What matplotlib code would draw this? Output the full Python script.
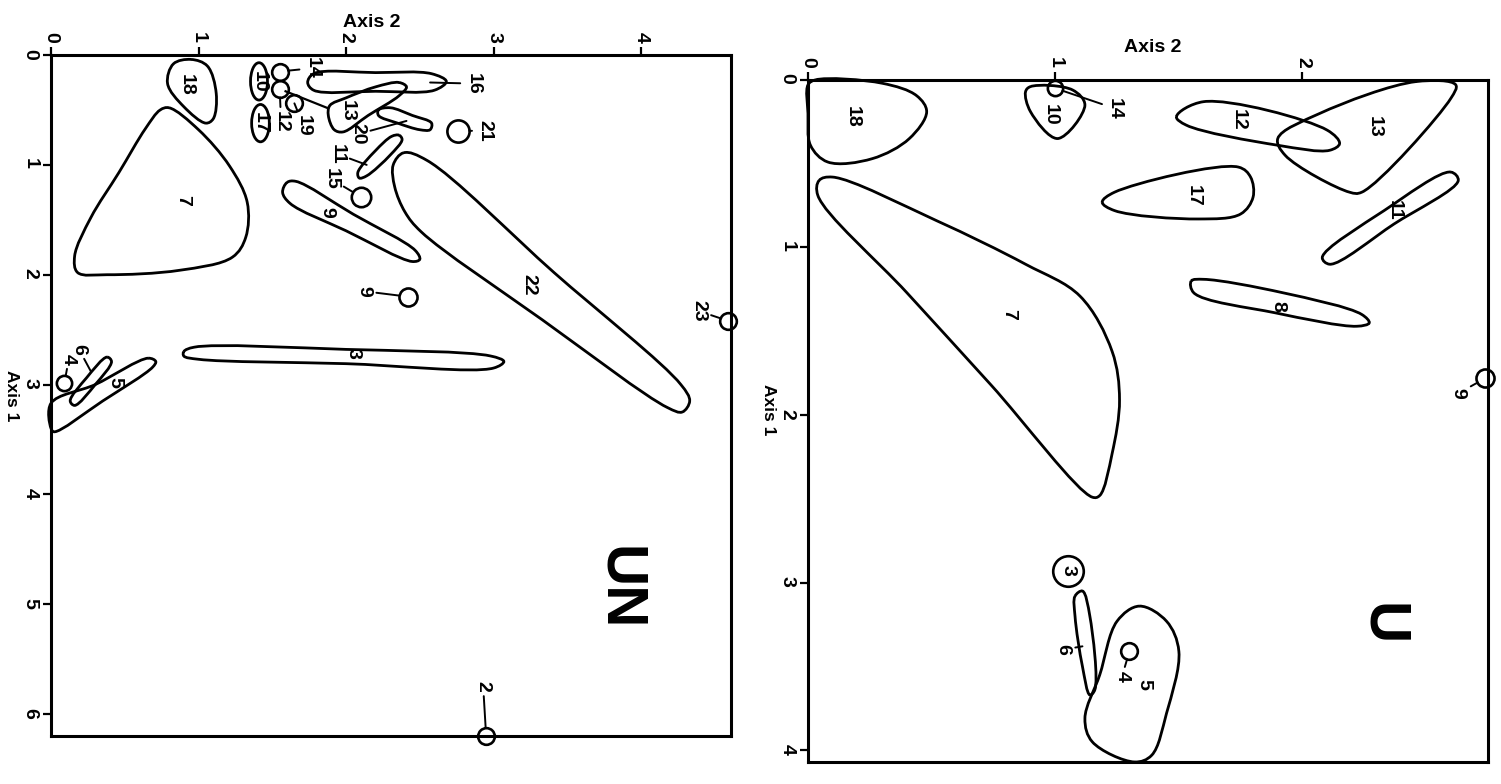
import numpy as np
import matplotlib.pyplot as plt
from matplotlib.path import Path
from matplotlib.patches import PathPatch, Ellipse

plt.rcParams['font.family'] = ['Liberation Sans', 'DejaVu Sans']
plt.rcParams['font.weight'] = 'bold'

# ---------------- panel UN (x = Axis 2, y = Axis 1) ----------------
un_groups = {
    '18': [(0.95, 0.04), (1.06, 0.10), (1.12, 0.35), (1.10, 0.58), (1.05, 0.62),
           (0.90, 0.47), (0.79, 0.26), (0.83, 0.08)],
    '7': [(0.80, 0.48), (1.00, 0.68), (1.21, 1.01), (1.33, 1.34), (1.32, 1.66),
          (1.23, 1.84), (0.87, 1.96), (0.38, 2.00), (0.18, 1.98), (0.16, 1.83),
          (0.27, 1.48), (0.46, 1.07), (0.64, 0.67), (0.74, 0.50)],
    '16': [(1.78, 0.17), (2.20, 0.16), (2.58, 0.17), (2.68, 0.24), (2.60, 0.32),
           (2.20, 0.33), (1.78, 0.32), (1.74, 0.25)],
    '13': [(2.36, 0.25), (2.41, 0.29), (2.36, 0.37), (2.15, 0.55), (1.98, 0.70),
           (1.92, 0.68), (1.88, 0.55), (1.89, 0.46), (2.00, 0.39), (2.20, 0.29)],
    '20': [(2.22, 0.50), (2.30, 0.48), (2.45, 0.55), (2.58, 0.62), (2.57, 0.68),
           (2.50, 0.68), (2.35, 0.62), (2.22, 0.55)],
    '11': [(2.36, 0.73), (2.38, 0.77), (2.30, 0.91), (2.14, 1.10), (2.09, 1.12),
           (2.08, 1.07), (2.20, 0.87), (2.31, 0.74)],
    '9b': [(1.60, 1.16), (1.66, 1.15), (2.05, 1.45), (2.47, 1.78), (2.50, 1.86),
           (2.45, 1.88), (2.00, 1.60), (1.62, 1.35), (1.57, 1.25)],
    '22': [(2.39, 0.89), (2.55, 0.96), (3.41, 1.98), (4.27, 3.00), (4.33, 3.15),
           (4.28, 3.25), (4.18, 3.21), (3.33, 2.41), (2.51, 1.61), (2.40, 1.43),
           (2.33, 1.20), (2.32, 1.00)],
    '3': [(0.90, 2.70), (0.97, 2.66), (2.00, 2.68), (2.98, 2.74), (3.07, 2.79),
          (3.00, 2.85), (2.00, 2.81), (1.00, 2.77), (0.90, 2.74)],
    '5': [(0.66, 2.76), (0.71, 2.79), (0.69, 2.84), (0.35, 3.15), (0.02, 3.43),
          (0.00, 3.40), (0.00, 3.17), (0.30, 3.00)],
    '6': [(0.38, 2.75), (0.41, 2.79), (0.30, 3.00), (0.16, 3.19), (0.13, 3.15),
          (0.24, 2.94)],
}
un_group_text = {'18': (0.92, 0.27), '7': (0.89, 1.32), '13': (2.01, 0.51),
                 '9b': (1.87, 1.43), '22': (3.24, 2.09), '3': (2.05, 2.72),
                 '5': (0.43, 2.98)}
# groups whose number sits outside, joined by a short line
un_group_leaders = {'16': ((2.57, 0.25), (2.86, 0.26)),
                    '20': ((2.41, 0.60), (2.08, 0.72)),
                    '11': ((2.14, 1.00), (1.94, 0.90)),
                    '6': ((0.27, 2.88), (0.19, 2.68))}
# narrow upright ovals: centre, width, height
un_ovals = {'10': ((1.41, 0.24), 0.115, 0.34), '17': ((1.42, 0.62), 0.12, 0.34)}
# single variables
un_points = {'14': (1.55, 0.15), '12': (1.55, 0.31), '19': (1.65, 0.44),
             '21': (2.76, 0.69), '15': (2.10, 1.29), '9': (2.42, 2.20),
             '23': (4.59, 2.42), '2': (2.95, 6.20), '4': (0.09, 2.99)}
un_point_text = {'14': (1.77, 0.12), '12': (1.56, 0.61), '19': (1.71, 0.64),
                 '21': (2.94, 0.69), '15': (1.90, 1.13), '9': (2.12, 2.15),
                 '23': (4.39, 2.33), '2': (2.93, 5.75), '4': (0.12, 2.77)}
un_point_size = {'14': 12, '12': 12, '19': 12, '21': 16, '15': 14, '9': 13,
                 '23': 12, '2': 12, '4': 11}
un_links = [((1.59, 0.33), (1.87, 0.48))]

# ---------------- panel U ----------------
u_groups = {
    '18': [(0.03, 0.00), (0.30, 0.02), (0.44, 0.095), (0.48, 0.19), (0.41, 0.35),
           (0.26, 0.47), (0.08, 0.49), (0.01, 0.39), (0.00, 0.20), (0.00, 0.03)],
    '10': [(0.90, 0.04), (1.07, 0.06), (1.12, 0.15), (1.01, 0.35), (0.90, 0.19),
           (0.88, 0.07)],
    '12': [(1.49, 0.22), (1.60, 0.13), (2.10, 0.30), (2.15, 0.38), (2.11, 0.42),
           (1.90, 0.39), (1.53, 0.27)],
    '13': [(2.46, 0.01), (2.62, 0.03), (2.60, 0.11), (2.24, 0.67), (2.19, 0.67),
           (1.93, 0.45), (1.90, 0.35), (2.07, 0.20)],
    '17': [(1.19, 0.73), (1.24, 0.67), (1.74, 0.52), (1.79, 0.58), (1.80, 0.70),
           (1.75, 0.80), (1.58, 0.83), (1.24, 0.78)],
    '11': [(2.60, 0.55), (2.63, 0.60), (2.37, 0.86), (2.11, 1.10), (2.08, 1.06),
           (2.33, 0.78)],
    '8': [(1.55, 1.20), (1.60, 1.19), (1.92, 1.27), (2.24, 1.40), (2.27, 1.45),
          (2.22, 1.47), (1.89, 1.39), (1.56, 1.27)],
    '7': [(0.045, 0.60), (0.10, 0.58), (0.52, 0.84), (0.88, 1.10), (1.10, 1.29),
          (1.23, 1.62), (1.26, 1.91), (1.23, 2.23), (1.18, 2.48), (1.15, 2.49),
          (0.74, 1.82), (0.40, 1.27), (0.04, 0.69)],
    '6': [(1.08, 3.08), (1.11, 3.05), (1.14, 3.20), (1.16, 3.64), (1.14, 3.67),
          (1.11, 3.50), (1.08, 3.20)],
    '5': [(1.34, 3.14), (1.25, 3.23), (1.18, 3.55), (1.12, 3.81), (1.15, 3.95),
          (1.32, 4.07), (1.39, 4.03), (1.45, 3.78), (1.50, 3.41), (1.45, 3.23)],
}
u_group_text = {'18': (0.18, 0.22), '10': (0.98, 0.21), '12': (1.74, 0.24),
                '13': (2.29, 0.28), '17': (1.56, 0.69), '11': (2.37, 0.78),
                '8': (1.90, 1.35), '7': (0.81, 1.40), '5': (1.36, 3.61)}
u_group_leaders = {'6': ((1.11, 3.38), (1.03, 3.40))}
u_points = {'14': (1.00, 0.05), '9': (2.74, 1.78), '4': (1.30, 3.41), '3': (1.05, 2.93)}
u_point_text = {'14': (1.24, 0.17), '9': (2.63, 1.87), '4': (1.27, 3.56), '3': (1.05, 2.93)}
u_point_size = {'14': 11, '9': 13, '4': 12, '3': 22}


def closed_curve(pts, sx, sy):
    # centripetal Catmull-Rom outline, worked out in screen-like units
    # (sx, sy = pixels per axis unit) and handed to matplotlib as cubic Beziers
    p = np.asarray(pts, float) * [sx, sy]
    n = len(p)
    verts = [p[0]]
    codes = [Path.MOVETO]
    for i in range(n):
        p0, p1, p2, p3 = p[i - 1], p[i], p[(i + 1) % n], p[(i + 2) % n]
        d0 = max(np.linalg.norm(p1 - p0) ** 0.5, 1e-6)
        d1 = max(np.linalg.norm(p2 - p1) ** 0.5, 1e-6)
        d2 = max(np.linalg.norm(p3 - p2) ** 0.5, 1e-6)
        m1 = d1 * ((p1 - p0) / d0 - (p2 - p0) / (d0 + d1) + (p2 - p1) / d1)
        m2 = d1 * ((p2 - p1) / d1 - (p3 - p1) / (d1 + d2) + (p3 - p2) / d2)
        verts += [p1 + m1 / 3, p2 - m2 / 3, p2]
        codes += [Path.CURVE4] * 3
    verts = np.array(verts) / [sx, sy]
    return Path(verts, codes)


LW = 2.0
TXT = dict(fontsize=14, fontweight='bold', rotation=-90, ha='center', va='center')


def draw_panel(ax, groups, group_text, group_leaders, points, point_text, point_size,
               xmax, ymax, xticks, yticks, name, name_pos, ylab_y, xlab_x, scale,
               ovals=None, links=()):
    ax.set_xlim(0, xmax)
    ax.set_ylim(ymax, 0)
    ax.xaxis.tick_top()
    ax.set_xticks(xticks)
    ax.set_yticks(yticks)
    ax.set_xticklabels([str(t) for t in xticks])
    ax.set_yticklabels([str(t) for t in yticks])
    ax.tick_params(axis='both', direction='out', length=6, width=1.6,
                   labelsize=14, labelrotation=-90, pad=3)
    for s in ax.spines.values():
        s.set_linewidth(2.2)

    for key, pts in groups.items():
        ax.add_patch(PathPatch(closed_curve(pts, *scale), fill=False, lw=LW,
                               ec='black', clip_on=False))
    for key, (xy, txt) in group_leaders.items():
        ax.annotate(key, xy=xy, xytext=txt, **TXT,
                    arrowprops=dict(arrowstyle='-', lw=1.4, shrinkA=1, shrinkB=0))
    for key, xy in group_text.items():
        ax.text(*xy, key.rstrip('b'), **TXT)
    if ovals:
        for key, (c, w, h) in ovals.items():
            ax.add_patch(Ellipse(c, w, h, fill=False, lw=LW, ec='black'))
            ax.text(*c, key, **TXT)
    for a, b in links:
        ax.plot([a[0], b[0]], [a[1], b[1]], color='black', lw=1.6)

    for key, xy in points.items():
        ms = point_size[key]
        ax.plot(*xy, 'o', ms=ms, mfc='none', mec='black', mew=1.9, clip_on=False)
        if point_text[key] == xy:
            ax.text(*xy, key, **TXT)
        else:
            ax.annotate(key, xy=xy, xytext=point_text[key], **TXT,
                        arrowprops=dict(arrowstyle='-', lw=1.4, shrinkA=1,
                                        shrinkB=ms / 2))

    ax.text(*name_pos, name, fontsize=42, fontweight='bold', rotation=-90,
            ha='center', va='center')
    ax.text(xlab_x, 1.048, 'Axis 2', transform=ax.transAxes, fontsize=14,
            fontweight='bold', ha='center', va='center')
    ax.text(-0.058, ylab_y, 'Axis 1', transform=ax.transAxes, fontsize=12.5,
            fontweight='bold', rotation=-90, ha='center', va='center')


fig = plt.figure(figsize=(15.01, 7.84), dpi=100)
ax1 = fig.add_axes([0.034, 0.0612, 0.453, 0.8686])
ax2 = fig.add_axes([0.5383, 0.0281, 0.453, 0.870])

draw_panel(ax1, un_groups, un_group_text, un_group_leaders, un_points, un_point_text,
           un_point_size, 4.61, 6.2, [0, 1, 2, 3, 4], [0, 1, 2, 3, 4, 5, 6],
           'UN', (3.85, 4.85), 0.50, 0.472, (147.5, 110.0),
           ovals=un_ovals, links=un_links)
draw_panel(ax2, u_groups, u_group_text, u_group_leaders, u_points, u_point_text,
           u_point_size, 2.75, 4.07, [0, 1, 2], [0, 1, 2, 3, 4],
           'U', (2.32, 3.25), 0.516, 0.507, (247.0, 167.6))

fig.savefig('out.png', dpi=100)
